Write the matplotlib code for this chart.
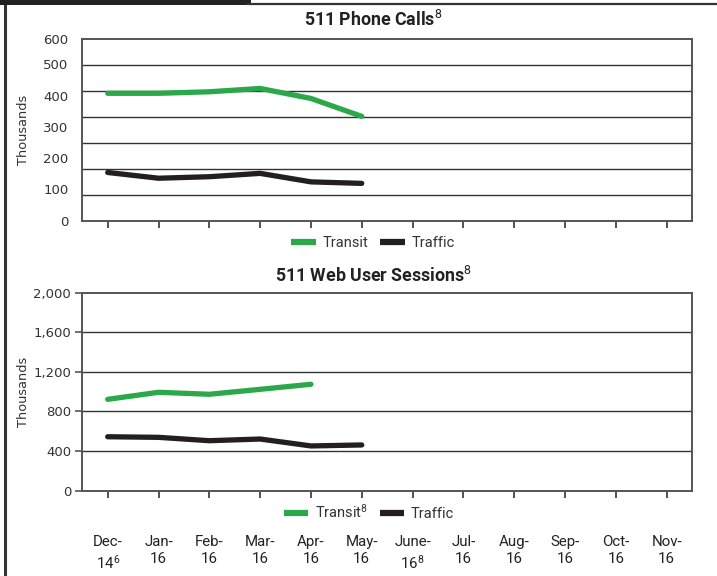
import matplotlib
matplotlib.use("Agg")
import matplotlib.pyplot as plt
from matplotlib.lines import Line2D
from matplotlib import font_manager
import numpy as np

# ---------------- data ----------------
months = ["Dec-\n14$^{6}$", "Jan-\n16", "Feb-\n16", "Mar-\n16", "Apr-\n16", "May-\n16",
          "June-\n16$^{8}$", "Jul-\n16", "Aug-\n16", "Sep-\n16", "Oct-\n16", "Nov-\n16"]

phone_transit = [422, 422, 427, 438, 405, 346]
phone_traffic = [161, 142, 147, 158, 130, 125]

web_transit = [923, 994, 974, 1024, 1075]
web_traffic = [545, 539, 505, 522, 452, 462]

phone_ticks = ["0", "100", "200", "300", "400", "500", "600"]
web_ticks = ["0", "400", "800", "1,200", "1,600", "2,000"]

# ---------------- styles ----------------
GREEN = "#2ba84a"
BLACK = "#231f20"
GRID = "#333333"
SPINE = "#555555"
TXT = "#333333"

names = {f.name for f in font_manager.fontManager.ttflist}
NARROW = "Roboto" if "Roboto" in names else "Liberation Sans"

plt.rcParams["mathtext.fontset"] = "custom"
plt.rcParams["mathtext.rm"] = NARROW
plt.rcParams["mathtext.it"] = NARROW
plt.rcParams["mathtext.bf"] = NARROW

W, H = 717, 576
fig = plt.figure(figsize=(W / 100, H / 100), dpi=100)

def fx(px):
    return px / W

def fy(py):
    return 1 - py / H

ax1 = fig.add_axes([fx(82.3), fy(221.3), fx(692 - 82.3), (221.3 - 39.3) / H])
ax2 = fig.add_axes([fx(82.3), fy(490.7), fx(692 - 82.3), (490.7 - 292.7) / H])

x = np.arange(len(months))

for ax in (ax1, ax2):
    ax.set_xlim(-0.5, len(months) - 0.5)
    for s in ax.spines.values():
        s.set_color(SPINE)
        s.set_linewidth(1.4)
    ax.set_xticks(x)
    ax.tick_params(axis="x", direction="out", length=5, width=1.2, color="#333333")
    ax.set_ylabel("Thousands", fontsize=9.3, color=TXT, family="DejaVu Sans")
    ax.yaxis.set_label_coords(-(82.3 - 30.0) / (692 - 82.3), 0.5)

# ---- top chart ----
ax1.set_ylim(0, 600)
for g in np.linspace(0, 600, 8)[1:-1]:
    ax1.axhline(g, color=GRID, lw=1.0, zorder=1)
ax1.plot(x[:len(phone_transit)], phone_transit, color=GREEN, lw=3.8, solid_capstyle="round", zorder=3)
ax1.plot(x[:len(phone_traffic)], phone_traffic, color=BLACK, lw=3.8, solid_capstyle="round", zorder=3)
# tick label positions as they appear in the reference
ax1.set_yticks([0, 105.5, 207.7, 310, 414, 517.6, 600])
ax1.set_yticklabels(phone_ticks)
ax1.tick_params(axis="y", length=0, pad=10, labelsize=9.5, labelcolor=TXT)
ax1.set_xticklabels([])

# ---- bottom chart ----
ax2.set_ylim(0, 2000)
for g in np.arange(400, 2000, 400):
    ax2.axhline(g, color=GRID, lw=1.0, zorder=1)
ax2.plot(x[:len(web_transit)], web_transit, color=GREEN, lw=3.8, solid_capstyle="round", zorder=3)
ax2.plot(x[:len(web_traffic)], web_traffic, color=BLACK, lw=3.8, solid_capstyle="round", zorder=3)
ax2.set_yticks(np.arange(0, 2001, 400))
ax2.set_yticklabels(web_ticks)
ax2.tick_params(axis="y", direction="out", length=5, width=1.2, color=SPINE, pad=3,
                labelsize=9.5, labelcolor=TXT)
ax2.set_xticklabels(months, family=NARROW, fontsize=10.8, color="#222222", linespacing=1.3)
ax2.tick_params(axis="x", pad=27)

# ---- titles ----
fig.text(fx(373), fy(20), "511 Phone Calls$^{8}$", ha="center", va="center",
         family=NARROW, fontweight="bold", fontsize=12.8, color="#222222")
fig.text(fx(373), fy(276), "511 Web User Sessions$^{8}$", ha="center", va="center",
         family=NARROW, fontweight="bold", fontsize=12.8, color="#222222")

# ---- legends ----
h_tr = Line2D([], [], color=GREEN, lw=4.5, solid_capstyle="butt")
h_tf = Line2D([], [], color=BLACK, lw=4.5, solid_capstyle="butt")
leg_kw = dict(loc="center", ncol=2, frameon=False, handlelength=1.7, handletextpad=0.45,
              columnspacing=0.8, prop={"family": NARROW, "size": 10.5})
l1 = fig.legend([h_tr, h_tf], ["Transit", "Traffic"], bbox_to_anchor=(fx(373), fy(243)), **leg_kw)
l2 = fig.legend([h_tr, h_tf], ["Transit$^{8}$", "Traffic"], bbox_to_anchor=(fx(369), fy(512)), **leg_kw)
for l in (l1, l2):
    for t in l.get_texts():
        t.set_color(TXT)

# ---- page border ----
fig.add_artist(Line2D([fx(4.8), fx(4.8)], [0, 1], color="#333333", lw=2.2))
fig.add_artist(Line2D([0, fx(248)], [fy(2.3), fy(2.3)], color="#222222", lw=3.6))
fig.add_artist(Line2D([fx(248), 1], [fy(3.6), fy(3.6)], color="#333333", lw=1.6))

fig.savefig("out.png", dpi=100)
